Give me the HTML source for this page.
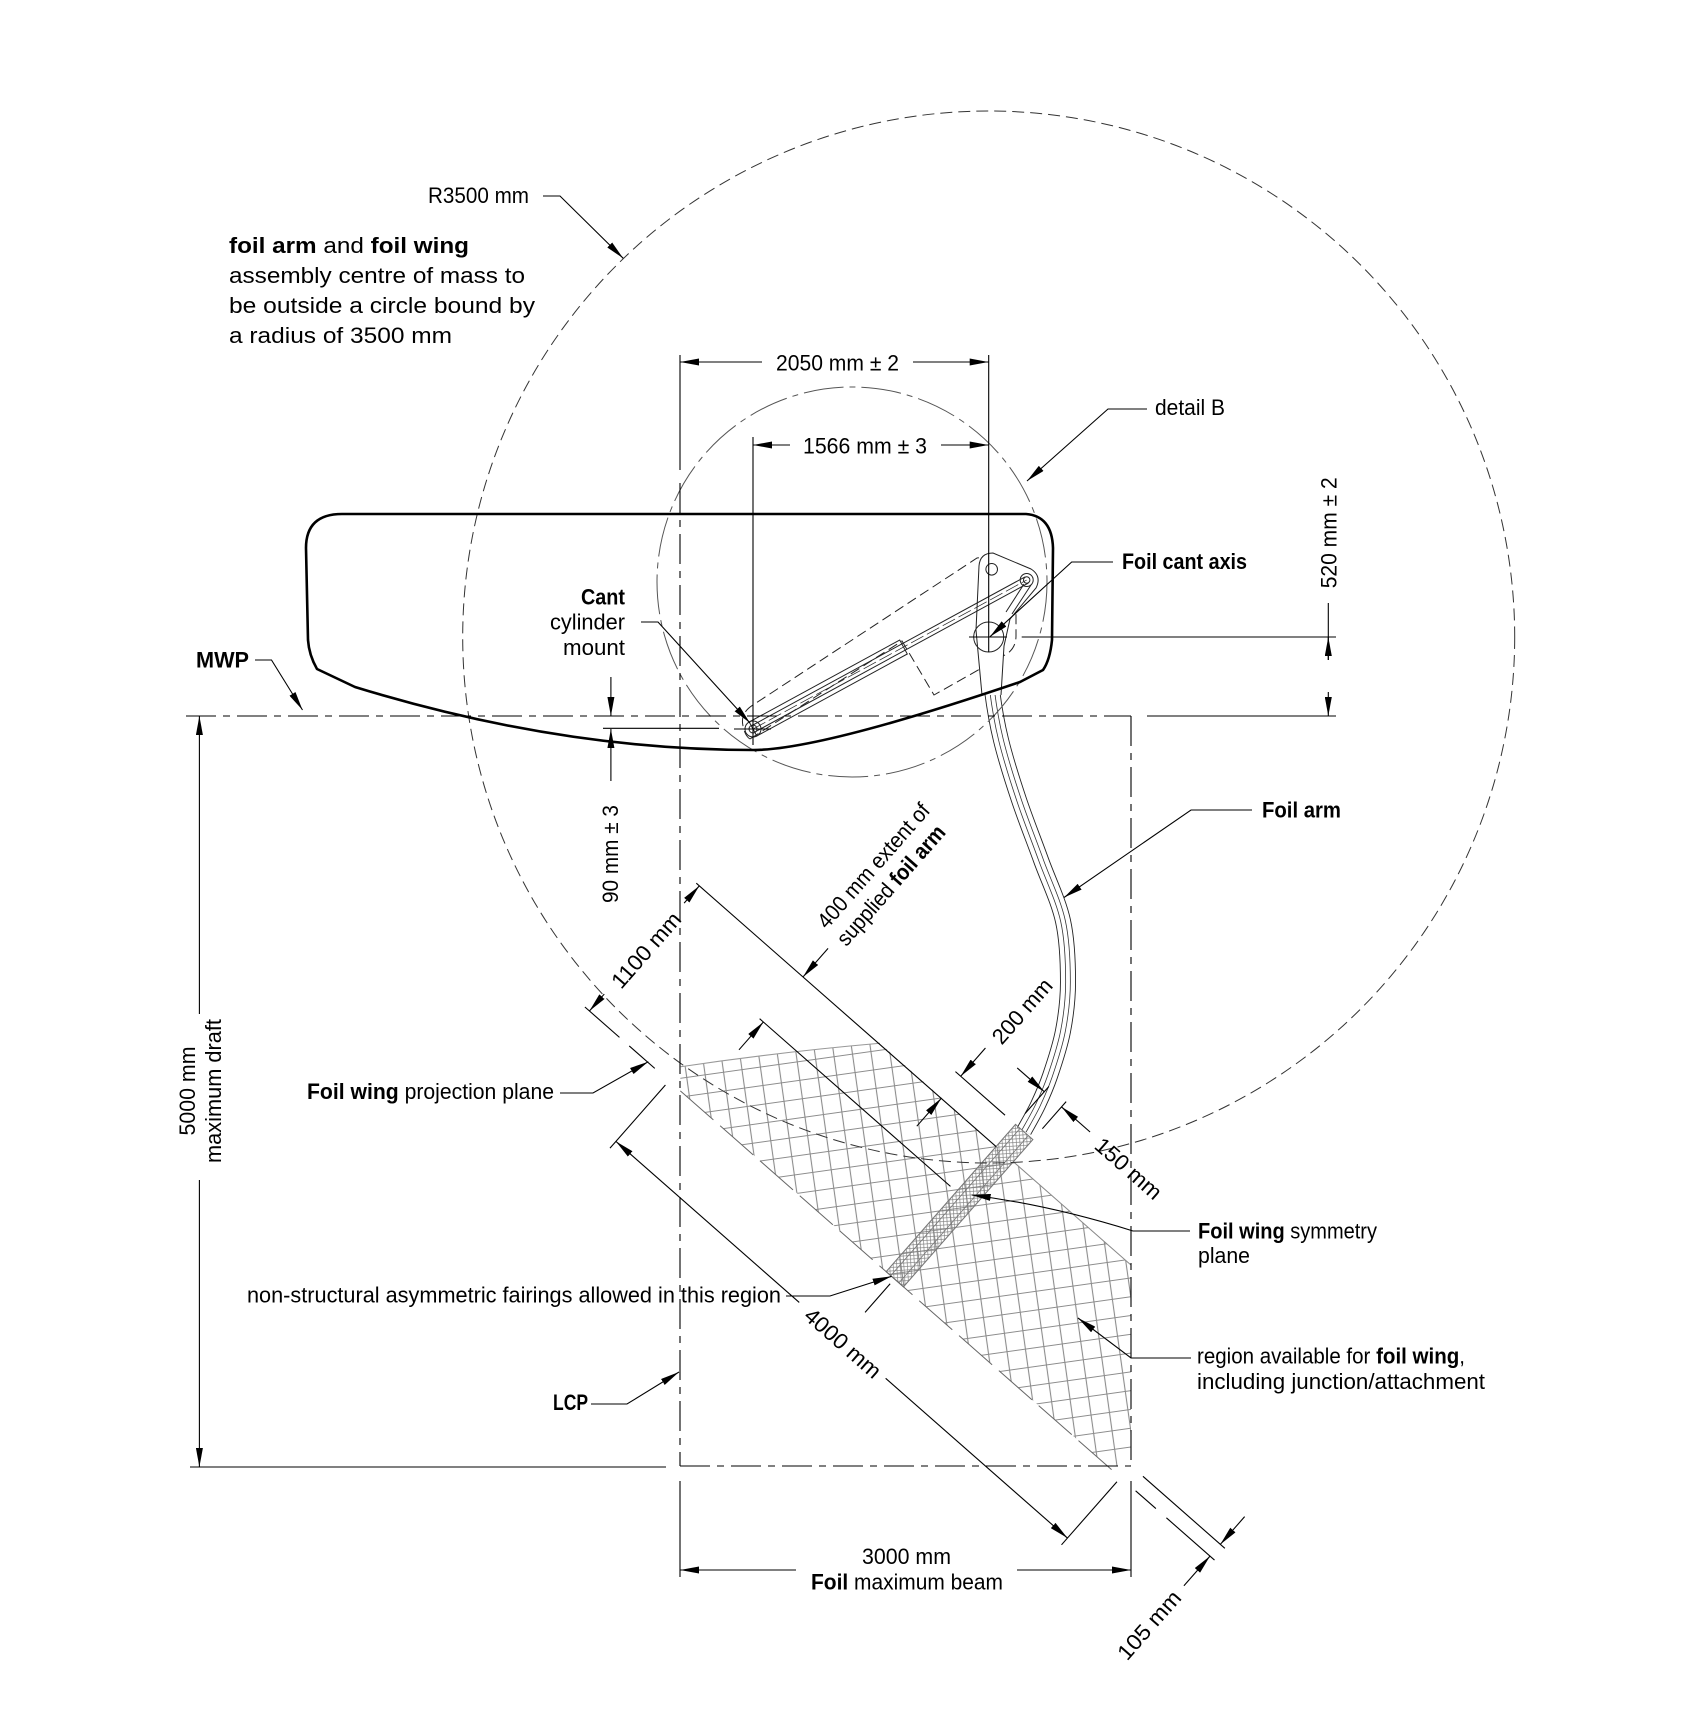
<!DOCTYPE html>
<html><head><meta charset="utf-8">
<style>
html,body{margin:0;padding:0;background:#fff;}
svg{display:block;}
text{font-family:"Liberation Sans",sans-serif;fill:#000;font-size:22px;}
</style></head><body>
<svg width="1684" height="1736" viewBox="0 0 1684 1736" xmlns="http://www.w3.org/2000/svg">
<defs>
<marker id="a" viewBox="0 0 19 7" refX="19" refY="3.5" markerWidth="19" markerHeight="7" markerUnits="userSpaceOnUse" orient="auto"><path d="M0,0L19,3.5L0,7z" fill="#000"/></marker>
<pattern id="grid" patternUnits="userSpaceOnUse" width="18.6" height="18.6" patternTransform="rotate(-8)"><path d="M0,9.3H18.6M9.3,0V18.6" stroke="#8c8c8c" stroke-width="1.1" fill="none"/></pattern>
<pattern id="dense" patternUnits="userSpaceOnUse" width="5" height="5"><path d="M0,0L5,5M5,0L0,5" stroke="#808080" stroke-width="0.7" fill="none"/></pattern>
<clipPath id="hc"><path d="M680.7,1066.7 Q780,1052 880,1043.3 L1131,1265.1 L1131,1466 L1107.4,1466 L680,1090.5 Z"/></clipPath>
</defs>
<rect width="1684" height="1736" fill="#fff"/>

<!-- hatch region -->
<g clip-path="url(#hc)"><rect x="660" y="1030" width="480" height="450" fill="url(#grid)"/></g>
<path d="M680.7,1066.7 Q780,1052 880,1043.3" stroke="#999" stroke-width="1" fill="none"/>

<!-- foil arm -->
<g fill="none">
<path d="M990,560 C989.7,572.8 987.7,615.3 988,637 C988.3,658.7 989.8,672.8 992,690 C994.2,707.2 996.5,721.7 1001,740 C1005.5,758.3 1012.3,780 1019,800 C1025.7,820 1033.7,839.8 1041,860 C1048.3,880.2 1058.5,900.7 1063,921 C1067.5,941.3 1068,963.7 1068,982 C1068,1000.3 1066,1015.3 1063,1031 C1060,1046.7 1054.2,1063.7 1050,1076 C1045.8,1088.3 1042.3,1095.8 1038,1105 C1033.7,1114.2 1026.3,1126.7 1024,1131" stroke="#222" stroke-width="16"/>
<path d="M990,560 C989.7,572.8 987.7,615.3 988,637 C988.3,658.7 989.8,672.8 992,690 C994.2,707.2 996.5,721.7 1001,740 C1005.5,758.3 1012.3,780 1019,800 C1025.7,820 1033.7,839.8 1041,860 C1048.3,880.2 1058.5,900.7 1063,921 C1067.5,941.3 1068,963.7 1068,982 C1068,1000.3 1066,1015.3 1063,1031 C1060,1046.7 1054.2,1063.7 1050,1076 C1045.8,1088.3 1042.3,1095.8 1038,1105 C1033.7,1114.2 1026.3,1126.7 1024,1131" stroke="#fff" stroke-width="14.2"/>
<path d="M990,560 C989.7,572.8 987.7,615.3 988,637 C988.3,658.7 989.8,672.8 992,690 C994.2,707.2 996.5,721.7 1001,740 C1005.5,758.3 1012.3,780 1019,800 C1025.7,820 1033.7,839.8 1041,860 C1048.3,880.2 1058.5,900.7 1063,921 C1067.5,941.3 1068,963.7 1068,982 C1068,1000.3 1066,1015.3 1063,1031 C1060,1046.7 1054.2,1063.7 1050,1076 C1045.8,1088.3 1042.3,1095.8 1038,1105 C1033.7,1114.2 1026.3,1126.7 1024,1131" stroke="#333" stroke-width="5.5"/>
<path d="M990,560 C989.7,572.8 987.7,615.3 988,637 C988.3,658.7 989.8,672.8 992,690 C994.2,707.2 996.5,721.7 1001,740 C1005.5,758.3 1012.3,780 1019,800 C1025.7,820 1033.7,839.8 1041,860 C1048.3,880.2 1058.5,900.7 1063,921 C1067.5,941.3 1068,963.7 1068,982 C1068,1000.3 1066,1015.3 1063,1031 C1060,1046.7 1054.2,1063.7 1050,1076 C1045.8,1088.3 1042.3,1095.8 1038,1105 C1033.7,1114.2 1026.3,1126.7 1024,1131" stroke="#fff" stroke-width="3.9"/>
</g>

<!-- mechanism -->
<g fill="none" stroke="#222" stroke-width="1">
<path d="M750,739 L902,641 L934,695 L1003,656 Q1016,650 1016,636 L1016,607 Q1014,561 990,556 L977,558 L753,705 Q740,713 743,726 Q745,736 750,739 Z" stroke-dasharray="10 5"/>
<polygon points="749.2,722 899.7,640 907.3,654 756.8,736"/>
<path d="M982,695 L976,630 L979,566 Q980,553 993,553 L1031,569 Q1042,576 1036,588 L1010,619 L1004,646 L1001,695" fill="#fff"/>
<line x1="751.3" y1="725.9" x2="1025" y2="576.9"/>
<line x1="754.7" y1="732.1" x2="1028.4" y2="583.1"/>
<line x1="753" y1="729" x2="1026.7" y2="580" stroke-dasharray="14 4" stroke-width="0.7"/>
<line x1="1024" y1="584" x2="1006" y2="612"/>
<line x1="1031" y1="585" x2="1012" y2="614"/>
<circle cx="991.7" cy="569.3" r="5.8"/>
<circle cx="1026.7" cy="580" r="3.2"/>
<circle cx="1026.7" cy="580" r="6.5"/>
<circle cx="988.7" cy="637" r="15"/>
<circle cx="753" cy="729" r="4"/>
<circle cx="753" cy="729" r="8"/>
</g>

<!-- rotated frame geometry -->
<g transform="matrix(0.7513 0.66 0.66 -0.7513 0 0)" stroke="#000" stroke-width="1.1" fill="none">
<rect x="1505" y="-370.5" width="23" height="196" fill="url(#dense)" stroke="#777"/>
<line x1="1511" y1="-370.5" x2="1511" y2="-174.5" stroke="#777" stroke-width="0.8"/>
<line x1="1522" y1="-370.5" x2="1522" y2="-174.5" stroke="#777" stroke-width="0.8"/>
<line x1="1106" y1="-204" x2="1505" y2="-204"/>
<line x1="1528" y1="-204" x2="1684.5" y2="-204" stroke="#888" stroke-width="1"/>
<line x1="1243" y1="-264" x2="1497" y2="-264"/>
<line x1="1104" y1="-370.5" x2="1150" y2="-370.5"/>
<line x1="1163" y1="-370.5" x2="1197" y2="-370.5"/>
<line x1="1231" y1="-370.5" x2="1806" y2="-370.5" stroke="#666" stroke-width="1" stroke-dasharray="44 9"/>
<line x1="1837" y1="-370.5" x2="1864" y2="-370.5"/>
<line x1="1878" y1="-370.5" x2="1942" y2="-370.5"/>
<line x1="1833" y1="-354.8" x2="1942" y2="-354.8"/>
<line x1="1936" y1="-318" x2="1936" y2="-354.8" marker-end="url(#a)"/>
<line x1="1936" y1="-410" x2="1936" y2="-370.5" marker-end="url(#a)"/>
<line x1="1216" y1="-376" x2="1216" y2="-460"/>
<line x1="1817" y1="-376" x2="1817" y2="-460"/>
<line x1="1460" y1="-451" x2="1216" y2="-451" marker-end="url(#a)"/>
<line x1="1575" y1="-451" x2="1817" y2="-451" marker-end="url(#a)"/>
<line x1="1110" y1="-227" x2="1110" y2="-204" marker-end="url(#a)"/>
<line x1="1110" y1="-348" x2="1110" y2="-370.5" marker-end="url(#a)"/>
<line x1="1248" y1="-166" x2="1248" y2="-204" marker-end="url(#a)"/>
<line x1="1248" y1="-301" x2="1248" y2="-264" marker-end="url(#a)"/>
<line x1="1425" y1="-174.5" x2="1491" y2="-174.5"/>
<line x1="1432" y1="-137" x2="1432" y2="-174.5" marker-end="url(#a)"/>
<line x1="1432" y1="-241" x2="1432" y2="-204" marker-end="url(#a)"/>
<line x1="1505" y1="-160" x2="1505" y2="-124"/>
<line x1="1528" y1="-160" x2="1528" y2="-124"/>
<line x1="1469" y1="-131" x2="1505" y2="-131" marker-end="url(#a)"/>
<line x1="1566" y1="-131" x2="1528" y2="-131" marker-end="url(#a)"/>
<line x1="1516" y1="-377" x2="1516" y2="-415"/>
</g>

<!-- circles -->
<circle cx="988.7" cy="637" r="526" fill="none" stroke="#333" stroke-width="1" stroke-dasharray="12 6"/>
<circle cx="852" cy="582" r="195" fill="none" stroke="#555" stroke-width="1" stroke-dasharray="40 6 6 6"/>

<!-- hull -->
<path d="M342,514 L1026,514 Q1052,516 1053,548 L1052,640 Q1050,660 1043,670 L1020,682 Q820,750 753,750 Q560,750 355,687 L317,669 Q309,655 308,640 L306,548 Q306,514 342,514 Z" fill="none" stroke="#000" stroke-width="2.6" stroke-linejoin="round"/>

<!-- reference lines -->
<g stroke="#000" stroke-width="1.1" fill="none">
<line x1="186" y1="716" x2="1131" y2="716" stroke-dasharray="30 7 7 7"/>
<line x1="1147" y1="716" x2="1336" y2="716"/>
<line x1="680" y1="355" x2="680" y2="470"/>
<line x1="680" y1="483" x2="680" y2="1466" stroke-dasharray="30 7 7 7"/>
<line x1="680" y1="1481" x2="680" y2="1577"/>
<line x1="1131" y1="716" x2="1131" y2="1466" stroke-dasharray="30 7 7 7"/>
<line x1="1131" y1="1481" x2="1131" y2="1577"/>
<line x1="680" y1="1466" x2="1131" y2="1466" stroke-dasharray="30 7 7 7"/>
<line x1="190" y1="1467" x2="666" y2="1467"/>
<line x1="753" y1="437" x2="753" y2="745"/>
<line x1="988.7" y1="355" x2="988.7" y2="652"/>
<line x1="969" y1="637" x2="1007" y2="637"/>
<line x1="1021.7" y1="637" x2="1336" y2="637"/>
<line x1="603" y1="728.3" x2="719" y2="728.3"/>
<line x1="734" y1="729" x2="771" y2="729"/>

<!-- dims -->
<line x1="762" y1="362" x2="680" y2="362" marker-end="url(#a)"/>
<line x1="913" y1="362" x2="988.7" y2="362" marker-end="url(#a)"/>
<line x1="790" y1="445" x2="753" y2="445" marker-end="url(#a)"/>
<line x1="941" y1="445" x2="988.7" y2="445" marker-end="url(#a)"/>
<line x1="1328.3" y1="603" x2="1328.3" y2="660"/>
<line x1="1328.3" y1="660" x2="1328.3" y2="637" marker-end="url(#a)"/>
<line x1="1328.3" y1="692" x2="1328.3" y2="716" marker-end="url(#a)"/>
<line x1="610.9" y1="677" x2="610.9" y2="716" marker-end="url(#a)"/>
<line x1="610.9" y1="781" x2="610.9" y2="729" marker-end="url(#a)"/>
<line x1="199.4" y1="1014" x2="199.4" y2="716" marker-end="url(#a)"/>
<line x1="199.4" y1="1180" x2="199.4" y2="1467" marker-end="url(#a)"/>
<line x1="796" y1="1570" x2="680" y2="1570" marker-end="url(#a)"/>
<line x1="1017" y1="1570" x2="1131" y2="1570" marker-end="url(#a)"/>

<!-- leaders -->
<polyline points="543,196 560,196 623.2,258.3" marker-end="url(#a)"/>
<polyline points="1147,409 1108,409 1027,481" marker-end="url(#a)"/>
<polyline points="1113,562 1071.7,562 990,636.7" marker-end="url(#a)"/>
<polyline points="641,622 658,622 750,723" marker-end="url(#a)"/>
<polyline points="255,660 271.5,660 302.5,710" marker-end="url(#a)"/>
<polyline points="1252,810 1191,810 1064,897.5" marker-end="url(#a)"/>
<path d="M1190,1231 L1133,1231 Q1050,1205 971.7,1195" marker-end="url(#a)"/>
<polyline points="786,1296 830,1296 891.6,1276.3" marker-end="url(#a)"/>
<polyline points="1191,1358 1131,1358 1078,1318" marker-end="url(#a)"/>
<polyline points="591,1404 627,1404 679,1372" marker-end="url(#a)"/>
<polyline points="560,1093 593,1093 648.3,1061.7" marker-end="url(#a)"/>
</g>

<!-- texts -->
<text x="428" y="203" textLength="101" lengthAdjust="spacingAndGlyphs">R3500 mm</text>
<text x="229" y="253" font-size="24" textLength="240" lengthAdjust="spacingAndGlyphs"><tspan font-weight="bold">foil arm</tspan> and <tspan font-weight="bold">foil wing</tspan></text>
<text x="229" y="283" font-size="24" textLength="296" lengthAdjust="spacingAndGlyphs">assembly centre of mass to</text>
<text x="229" y="313" font-size="24" textLength="306" lengthAdjust="spacingAndGlyphs">be outside a circle bound by</text>
<text x="229" y="343" font-size="24" textLength="223" lengthAdjust="spacingAndGlyphs">a radius of 3500 mm</text>

<text x="837.5" y="370.5" text-anchor="middle" textLength="123" lengthAdjust="spacingAndGlyphs">2050 mm ± 2</text>
<text x="865" y="453.5" text-anchor="middle" textLength="124" lengthAdjust="spacingAndGlyphs">1566 mm ± 3</text>
<text x="1155" y="415" textLength="70" lengthAdjust="spacingAndGlyphs">detail B</text>
<text x="1122" y="569" font-weight="bold" textLength="125" lengthAdjust="spacingAndGlyphs">Foil cant axis</text>
<text transform="translate(1336.5,588.3) rotate(-90)" x="0" y="0" textLength="111" lengthAdjust="spacingAndGlyphs">520 mm ± 2</text>

<text x="625" y="604.5" text-anchor="end" font-weight="bold" textLength="44" lengthAdjust="spacingAndGlyphs">Cant</text>
<text x="625" y="629.5" text-anchor="end" textLength="75" lengthAdjust="spacingAndGlyphs">cylinder</text>
<text x="625" y="655" text-anchor="end" textLength="62" lengthAdjust="spacingAndGlyphs">mount</text>
<text x="196" y="667.5" font-weight="bold" textLength="53" lengthAdjust="spacingAndGlyphs">MWP</text>
<text transform="translate(618,903) rotate(-90)" x="0" y="0" textLength="98" lengthAdjust="spacingAndGlyphs">90 mm ± 3</text>

<text x="1262" y="817.5" font-weight="bold" textLength="79" lengthAdjust="spacingAndGlyphs">Foil arm</text>

<text transform="translate(826.9,930) rotate(-48.7)" x="0" y="0" textLength="158" lengthAdjust="spacingAndGlyphs">400 mm extent of</text>
<text transform="translate(846.4,947.2) rotate(-48.7)" x="0" y="0" textLength="152" lengthAdjust="spacingAndGlyphs">supplied <tspan font-weight="bold">foil arm</tspan></text>
<text transform="translate(646,950) rotate(-48.7)" x="0" y="0" dy="0.35em" text-anchor="middle" textLength="93" lengthAdjust="spacingAndGlyphs">1100 mm</text>
<text transform="translate(1022,1011) rotate(-48.7)" x="0" y="0" dy="0.35em" text-anchor="middle" textLength="79" lengthAdjust="spacingAndGlyphs">200 mm</text>
<text transform="translate(1128.6,1168.4) rotate(41.3)" x="0" y="0" dy="0.35em" text-anchor="middle" textLength="81" lengthAdjust="spacingAndGlyphs">150 mm</text>
<text transform="translate(843,1343) rotate(41.3)" x="0" y="0" dy="0.35em" text-anchor="middle" textLength="94" lengthAdjust="spacingAndGlyphs">4000 mm</text>
<text transform="translate(1149,1625) rotate(-48.7)" x="0" y="0" dy="0.35em" text-anchor="middle" textLength="84" lengthAdjust="spacingAndGlyphs">105 mm</text>

<text x="307" y="1099" textLength="247" lengthAdjust="spacingAndGlyphs"><tspan font-weight="bold">Foil wing</tspan> projection plane</text>
<text x="1198" y="1238.5" textLength="179" lengthAdjust="spacingAndGlyphs"><tspan font-weight="bold">Foil wing</tspan> symmetry</text>
<text x="1198" y="1263" textLength="52" lengthAdjust="spacingAndGlyphs">plane</text>
<text x="247" y="1302.5" textLength="534" lengthAdjust="spacingAndGlyphs">non-structural asymmetric fairings allowed in this region</text>
<text x="1197" y="1363.5" textLength="268" lengthAdjust="spacingAndGlyphs">region available for <tspan font-weight="bold">foil wing</tspan>,</text>
<text x="1197" y="1389" textLength="288" lengthAdjust="spacingAndGlyphs">including junction/attachment</text>
<text x="553" y="1410" font-weight="bold" textLength="35" lengthAdjust="spacingAndGlyphs">LCP</text>
<text x="906.5" y="1564" text-anchor="middle" textLength="89" lengthAdjust="spacingAndGlyphs">3000 mm</text>
<text x="907" y="1589.5" text-anchor="middle" textLength="192" lengthAdjust="spacingAndGlyphs"><tspan font-weight="bold">Foil</tspan> maximum beam</text>
<text transform="translate(195,1091) rotate(-90)" x="0" y="0" text-anchor="middle" textLength="89" lengthAdjust="spacingAndGlyphs">5000 mm</text>
<text transform="translate(221,1091) rotate(-90)" x="0" y="0" text-anchor="middle" textLength="144" lengthAdjust="spacingAndGlyphs">maximum draft</text>
</svg>
</body></html>
